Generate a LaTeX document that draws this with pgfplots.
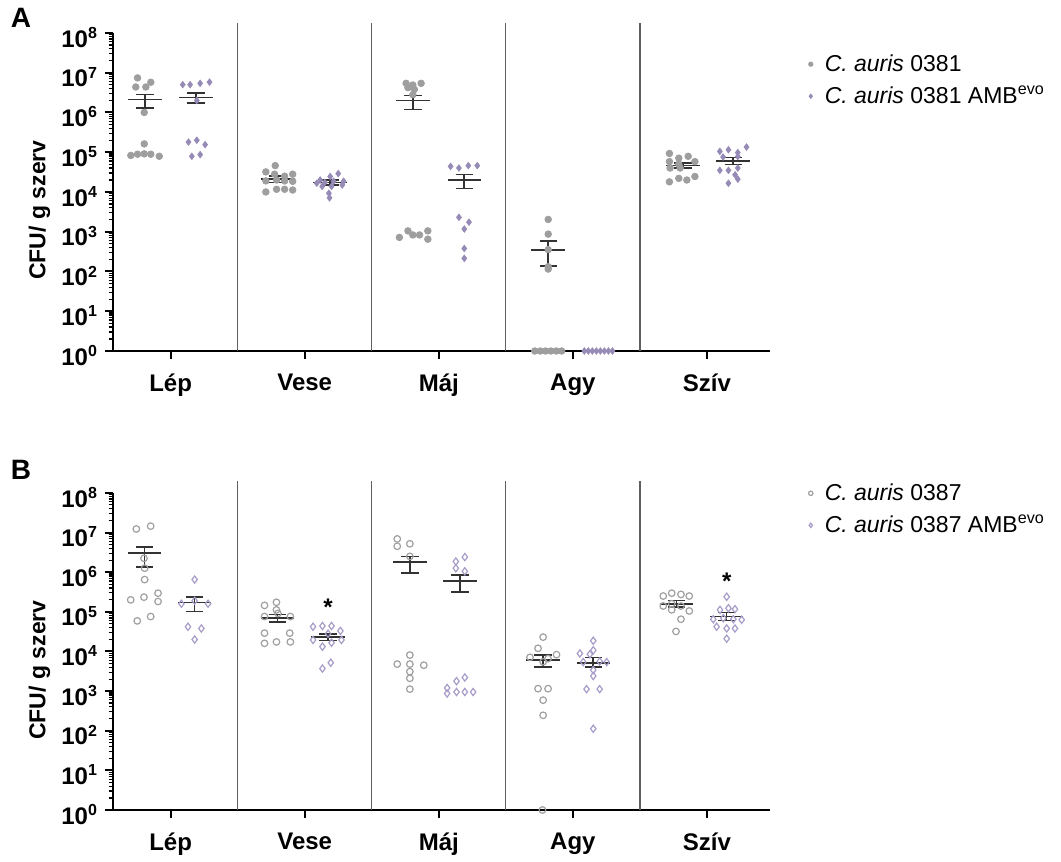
\documentclass[border=0pt]{standalone}
\usepackage{pgfplots}
\pgfplotsset{compat=1.18}
\usepackage{fontspec}
\setmainfont{Liberation Sans}
\definecolor{ptgray}{RGB}{158,158,158}
\definecolor{ptpurp}{RGB}{150,138,182}
\definecolor{opgray}{RGB}{160,160,160}
\definecolor{oppurp}{RGB}{168,156,200}
\definecolor{meanc}{RGB}{50,50,50}
\definecolor{sepc}{RGB}{95,95,95}
\tikzset{
 sepline/.style={sepc, line width=0.6pt},
 meanline/.style={meanc, line width=0.8pt},
}
\begin{document}
\begin{tikzpicture}
\useasboundingbox (0,0) rectangle (530.5pt,-431pt);
\node[font=\fontsize{14}{16}\selectfont\bfseries] at (10.5pt,-9pt) {A};
\node[font=\fontsize{14}{16}\selectfont\bfseries] at (10.5pt,-235pt) {B};
\node[rotate=90, font=\fontsize{11.5}{13}\selectfont\bfseries] at (19.75pt,-105pt) {CFU/ g szerv};
\node[rotate=90, font=\fontsize{11.5}{13}\selectfont\bfseries] at (19.75pt,-335pt) {CFU/ g szerv};
% ---------------- Panel A ----------------
\begin{axis}[
  scale only axis, width=328.5pt, height=164pt,
  at={(56.5pt,-175.5pt)}, anchor=south west,
  ymode=log, ymin=1, ymax=1.778e8,
  xmin=-0.43, xmax=4.47,
  axis x line*=bottom, axis y line*=left,
  y axis line style={line width=1pt, shorten >=4.97pt},
  x axis line style={line width=1pt},
  tick align=outside,
  major tick length=4pt, minor tick length=2.2pt,
  major tick style={line width=1pt,black},
  minor tick style={line width=0.6pt,black},
  xtick={0,1,2,3,4}, xticklabels={Lép,Vese,Máj,Agy,Szív},
  xticklabel style={font=\fontsize{12}{14}\selectfont\bfseries, yshift=-4pt},
  ytick={1,10,100,1000,10000,100000,1000000,10000000,100000000},
  minor ytick={2,3,4,5,6,7,8,9,20,30,40,50,60,70,80,90,200,300,400,500,600,700,800,900,2000,3000,4000,5000,6000,7000,8000,9000,2e4,3e4,4e4,5e4,6e4,7e4,8e4,9e4,2e5,3e5,4e5,5e5,6e5,7e5,8e5,9e5,2e6,3e6,4e6,5e6,6e6,7e6,8e6,9e6,2e7,3e7,4e7,5e7,6e7,7e7,8e7,9e7},
  yticklabels={\textbf{10\textsuperscript{0}},\textbf{10\textsuperscript{1}},\textbf{10\textsuperscript{2}},\textbf{10\textsuperscript{3}},\textbf{10\textsuperscript{4}},\textbf{10\textsuperscript{5}},\textbf{10\textsuperscript{6}},\textbf{10\textsuperscript{7}},\textbf{10\textsuperscript{8}}},
  yticklabel style={font=\fontsize{12}{14}\selectfont\bfseries, yshift=-2.2pt},
  clip=false,
  unbounded coords=jump,
  legend style={draw=none, fill=none, font=\fontsize{11.5}{13.5}\selectfont, at={(1.049,0.93)}, anchor=north west, row sep=2pt},
  legend cell align=left,
  legend image code/.code={\draw[#1, mark size=1.1pt] plot coordinates {(0pt,0pt)}; \path[draw=none, fill=none] (-1pt,0pt) -- (5pt,0pt);},
]
\draw[sepline] (axis cs:0.5,1) -- (axis cs:0.5,1.778e8);
\draw[sepline] (axis cs:1.5,1) -- (axis cs:1.5,1.778e8);
\draw[sepline] (axis cs:2.5,1) -- (axis cs:2.5,1.778e8);
\draw[sepline] (axis cs:3.5,1) -- (axis cs:3.5,1.778e8);
\addplot[only marks, mark=*, mark size=1.65pt, color=ptgray, mark options={draw=ptgray, fill=ptgray}] coordinates {
(-0.247,7.4e6)(-0.148,5.75e6)(-0.26,4.37e6)(-0.185,4.37e6)(-0.197,1.0e6)(-0.197,1.62e5)(-0.297,8.3e4)(-0.247,8.9e4)(-0.197,9.1e4)(-0.148,8.9e4)(-0.085,7.9e4)
(0.78,4.6e4)(0.71,3.2e4)(0.775,2.8e4)(0.85,2.5e4)(0.91,2.8e4)(0.71,1.9e4)(0.79,2.0e4)(0.85,1.9e4)(0.91,1.85e4)(0.71,1.0e4)(0.79,1.17e4)(0.85,1.17e4)(0.91,1.12e4)
(1.756,5.4e6)(1.806,4.9e6)(1.868,5.4e6)(1.818,3.8e6)(1.77,4.2e6)(1.806,2.8e6)(1.706,720)(1.77,1050)(1.806,830)(1.856,830)(1.918,1050)(1.918,650)
(2.816,2040)(2.816,870)(2.816,355)(2.816,132)(2.816,115)(2.716,1)(2.756,1)(2.796,1)(2.836,1)(2.876,1)(2.916,1)
(3.72,9.3e4)(3.79,7.1e4)(3.86,7.9e4)(3.72,5.8e4)(3.91,5.8e4)(3.79,5.0e4)(3.725,4.0e4)(3.8,4.0e4)(3.72,1.8e4)(3.79,2.2e4)(3.85,2.0e4)(3.91,2.45e4)
};
\addlegendentry{\textit{C. auris} 0381}
\addplot[only marks, mark=diamond*, mark size=1.6pt, color=ptpurp, mark options={draw=ptpurp, fill=ptpurp}] coordinates {
(0.09,5.0e6)(0.145,5.0e6)(0.22,5.4e6)(0.29,5.8e6)(0.195,2.0e6)(0.133,1.8e5)(0.195,2.0e5)(0.257,1.55e5)(0.158,7.9e4)(0.22,8.7e4)
(1.25,2.9e4)(1.19,2.45e4)(1.115,2.0e4)(1.09,1.66e4)(1.15,1.74e4)(1.215,1.86e4)(1.29,1.86e4)(1.13,1.38e4)(1.2,1.38e4)(1.28,1.5e4)(1.18,9.3e3)(1.185,7.1e3)
(2.088,4.4e4)(2.15,4.0e4)(2.22,4.6e4)(2.287,4.6e4)(2.15,2300)(2.225,1740)(2.19,1170)(2.19,380)(2.19,214)
(3.085,1)(3.115,1)(3.145,1)(3.175,1)(3.205,1)(3.235,1)(3.265,1)(3.295,1)
(4.096,1.05e5)(4.16,1.15e5)(4.23,9.8e4)(4.295,1.35e5)(4.12,7.6e4)(4.23,7.8e4)(4.096,3.5e4)(4.16,3.5e4)(4.23,4.0e4)(4.21,2.7e4)(4.16,1.66e4)(4.23,2.1e4)
};
\addlegendentry{\textit{C. auris} 0381 AMB\textsuperscript{evo}}
\addplot[meanline, no markers, forget plot] coordinates {
(-0.315,2.1e6)(-0.065,2.1e6)(0,nan)(-0.19,1.3e6)(-0.19,2.8e6)(0,nan)(-0.255,1.3e6)(-0.125,1.3e6)(0,nan)(-0.255,2.8e6)(-0.125,2.8e6)(0,nan)
(0.065,2.4e6)(0.315,2.4e6)(0,nan)(0.19,1.75e6)(0.19,3.1e6)(0,nan)(0.125,1.75e6)(0.255,1.75e6)(0,nan)(0.125,3.1e6)(0.255,3.1e6)(0,nan)
(0.675,2.1e4)(0.925,2.1e4)(0,nan)(0.8,1.75e4)(0.8,2.5e4)(0,nan)(0.735,1.75e4)(0.865,1.75e4)(0,nan)(0.735,2.5e4)(0.865,2.5e4)(0,nan)
(1.065,1.74e4)(1.315,1.74e4)(0,nan)(1.19,1.5e4)(1.19,2.0e4)(0,nan)(1.125,1.5e4)(1.255,1.5e4)(0,nan)(1.125,2.0e4)(1.255,2.0e4)(0,nan)
(1.681,2.0e6)(1.931,2.0e6)(0,nan)(1.806,1.2e6)(1.806,2.65e6)(0,nan)(1.741,1.2e6)(1.871,1.2e6)(0,nan)(1.741,2.65e6)(1.871,2.65e6)(0,nan)
(2.065,2.0e4)(2.315,2.0e4)(0,nan)(2.19,1.23e4)(2.19,2.75e4)(0,nan)(2.125,1.23e4)(2.255,1.23e4)(0,nan)(2.125,2.75e4)(2.255,2.75e4)(0,nan)
(2.691,350)(2.941,350)(0,nan)(2.816,138)(2.816,575)(0,nan)(2.751,138)(2.881,138)(0,nan)(2.751,575)(2.881,575)(0,nan)
(3.695,4.6e4)(3.945,4.6e4)(0,nan)(3.82,4.0e4)(3.82,5.3e4)(0,nan)(3.755,4.0e4)(3.885,4.0e4)(0,nan)(3.755,5.3e4)(3.885,5.3e4)(0,nan)
(4.071,6.0e4)(4.321,6.0e4)(0,nan)(4.196,4.9e4)(4.196,7.3e4)(0,nan)(4.131,4.9e4)(4.261,4.9e4)(0,nan)(4.131,7.3e4)(4.261,7.3e4)(0,nan)
};
\end{axis}
% ---------------- Panel B ----------------
\begin{axis}[
  scale only axis, width=328.5pt, height=164.5pt,
  at={(56.5pt,-405pt)}, anchor=south west,
  ymode=log, ymin=1, ymax=1.995e8,
  xmin=-0.43, xmax=4.47,
  axis x line*=bottom, axis y line*=left,
  y axis line style={line width=1pt, shorten >=5.95pt},
  x axis line style={line width=1pt},
  tick align=outside,
  major tick length=4pt, minor tick length=2.2pt,
  major tick style={line width=1pt,black},
  minor tick style={line width=0.6pt,black},
  xtick={0,1,2,3,4}, xticklabels={Lép,Vese,Máj,Agy,Szív},
  xticklabel style={font=\fontsize{12}{14}\selectfont\bfseries, yshift=-4pt},
  ytick={1,10,100,1000,10000,100000,1000000,10000000,100000000},
  minor ytick={2,3,4,5,6,7,8,9,20,30,40,50,60,70,80,90,200,300,400,500,600,700,800,900,2000,3000,4000,5000,6000,7000,8000,9000,2e4,3e4,4e4,5e4,6e4,7e4,8e4,9e4,2e5,3e5,4e5,5e5,6e5,7e5,8e5,9e5,2e6,3e6,4e6,5e6,6e6,7e6,8e6,9e6,2e7,3e7,4e7,5e7,6e7,7e7,8e7,9e7},
  yticklabels={\textbf{10\textsuperscript{0}},\textbf{10\textsuperscript{1}},\textbf{10\textsuperscript{2}},\textbf{10\textsuperscript{3}},\textbf{10\textsuperscript{4}},\textbf{10\textsuperscript{5}},\textbf{10\textsuperscript{6}},\textbf{10\textsuperscript{7}},\textbf{10\textsuperscript{8}}},
  yticklabel style={font=\fontsize{12}{14}\selectfont\bfseries, yshift=-2.2pt},
  clip=false,
  unbounded coords=jump,
  legend style={draw=none, fill=none, font=\fontsize{11.5}{13.5}\selectfont, at={(1.049,1.018)}, anchor=north west, row sep=2pt},
  legend cell align=left,
  legend image code/.code={\draw[#1, mark size=1.1pt] plot coordinates {(0pt,0pt)}; \path[draw=none, fill=none] (-1pt,0pt) -- (5pt,0pt);},
]
\draw[sepline] (axis cs:0.5,1) -- (axis cs:0.5,1.995e8);
\draw[sepline] (axis cs:1.5,1) -- (axis cs:1.5,1.995e8);
\draw[sepline] (axis cs:2.5,1) -- (axis cs:2.5,1.995e8);
\draw[sepline] (axis cs:3.5,1) -- (axis cs:3.5,1.995e8);
\addplot[only marks, mark=o, mark size=1.65pt, color=opgray, mark options={draw=opgray, fill=white, line width=0.6pt}] coordinates {
(-0.256,1.23e7)(-0.149,1.45e7)(-0.199,2.24e6)(-0.194,1.26e6)(-0.194,6.5e5)(-0.298,2.0e5)(-0.199,2.34e5)(-0.094,2.95e5)(-0.094,1.82e5)(-0.149,7.6e4)(-0.249,5.9e4)
(0.7,1.45e5)(0.789,1.74e5)(0.789,1.12e5)(0.8,9.1e4)(0.7,7.6e4)(0.893,7.6e4)(0.7,2.9e4)(0.888,2.9e4)(0.7,1.6e4)(0.789,1.74e4)(0.893,1.74e4)
(1.69,6.9e6)(1.69,4.5e6)(1.784,5.2e6)(1.784,2.5e6)(1.69,4800)(1.784,8100)(1.784,4800)(1.784,3100)(1.784,2100)(1.784,1120)(1.888,4500)
(2.778,2.3e4)(2.74,1.2e4)(2.68,7100)(2.878,8300)(2.815,6600)(2.778,5500)(2.74,1150)(2.815,1150)(2.778,590)(2.778,245)(2.773,1)
(3.674,2.5e5)(3.737,2.95e5)(3.806,2.75e5)(3.868,2.5e5)(3.674,1.4e5)(3.737,1.6e5)(3.806,1.4e5)(3.868,1.05e5)(3.806,6.5e4)(3.769,3.2e4)(3.737,1.12e5)
};
\addlegendentry{\textit{C. auris} 0387}
\addplot[only marks, mark=diamond, mark size=1.8pt, color=oppurp, mark options={draw=oppurp, fill=white, line width=0.6pt}] coordinates {
(0.179,6.5e5)(0.08,1.6e5)(0.179,1.9e5)(0.279,1.6e5)(0.129,4.2e4)(0.229,3.8e4)(0.179,2.0e4)
(1.062,4.2e4)(1.132,4.4e4)(1.2,4.4e4)(1.266,3.3e4)(1.062,1.95e4)(1.132,1.32e4)(1.2,1.66e4)(1.274,1.95e4)(1.132,3700)(1.194,5200)(1.174,2.8e4)
(2.194,2.4e6)(2.127,1.86e6)(2.127,1.26e6)(2.194,1.05e6)(2.132,1780)(2.194,2200)(2.062,1200)(2.062,870)(2.132,950)(2.194,950)(2.256,950)
(3.152,1.86e4)(3.152,1.07e4)(3.052,8900)(3.127,8500)(3.2,5600)(3.252,5400)(3.077,5400)(3.152,3400)(3.152,2400)(3.102,1120)(3.2,1120)(3.152,112)
(4.147,2.4e5)(4.097,1.12e5)(4.16,1.23e5)(4.209,1.17e5)(4.047,6.5e4)(4.122,6.9e4)(4.197,6.5e4)(4.259,6.3e4)(4.072,4.2e4)(4.147,3.8e4)(4.209,3.8e4)(4.147,2.1e4)
};
\addlegendentry{\textit{C. auris} 0387 AMB\textsuperscript{evo}}
\addplot[meanline, no markers, forget plot] coordinates {
(-0.319,3.0e6)(-0.069,3.0e6)(0,nan)(-0.194,1.37e6)(-0.194,4.3e6)(0,nan)(-0.259,1.37e6)(-0.129,1.37e6)(0,nan)(-0.259,4.3e6)(-0.129,4.3e6)(0,nan)
(0.054,1.7e5)(0.304,1.7e5)(0,nan)(0.179,1.02e5)(0.179,2.4e5)(0,nan)(0.114,1.02e5)(0.244,1.02e5)(0,nan)(0.114,2.4e5)(0.244,2.4e5)(0,nan)
(0.671,7.0e4)(0.921,7.0e4)(0,nan)(0.796,5.5e4)(0.796,8.5e4)(0,nan)(0.731,5.5e4)(0.861,5.5e4)(0,nan)(0.731,8.5e4)(0.861,8.5e4)(0,nan)
(1.049,2.35e4)(1.299,2.35e4)(0,nan)(1.174,1.9e4)(1.174,2.8e4)(0,nan)(1.109,1.9e4)(1.239,1.9e4)(0,nan)(1.109,2.8e4)(1.239,2.8e4)(0,nan)
(1.659,1.8e6)(1.909,1.8e6)(0,nan)(1.784,9.4e5)(1.784,2.5e6)(0,nan)(1.719,9.4e5)(1.849,9.4e5)(0,nan)(1.719,2.5e6)(1.849,2.5e6)(0,nan)
(2.032,6.0e5)(2.282,6.0e5)(0,nan)(2.157,3.2e5)(2.157,8.5e5)(0,nan)(2.092,3.2e5)(2.222,3.2e5)(0,nan)(2.092,8.5e5)(2.222,8.5e5)(0,nan)
(2.653,6.0e3)(2.903,6.0e3)(0,nan)(2.778,4.0e3)(2.778,8.0e3)(0,nan)(2.713,4.0e3)(2.843,4.0e3)(0,nan)(2.713,8.0e3)(2.843,8.0e3)(0,nan)
(3.027,5.2e3)(3.277,5.2e3)(0,nan)(3.152,4.0e3)(3.152,7.0e3)(0,nan)(3.087,4.0e3)(3.217,4.0e3)(0,nan)(3.087,7.0e3)(3.217,7.0e3)(0,nan)
(3.649,1.6e5)(3.899,1.6e5)(0,nan)(3.774,1.3e5)(3.774,1.95e5)(0,nan)(3.709,1.3e5)(3.839,1.3e5)(0,nan)(3.709,1.95e5)(3.839,1.95e5)(0,nan)
(4.022,7.6e4)(4.272,7.6e4)(0,nan)(4.147,6.0e4)(4.147,9.5e4)(0,nan)(4.082,6.0e4)(4.212,6.0e4)(0,nan)(4.082,9.5e4)(4.212,9.5e4)(0,nan)
};
\node[font=\fontsize{12}{14}\selectfont\bfseries, yshift=-2.5pt] at (axis cs:1.174,1.7e5) {*};
\node[font=\fontsize{12}{14}\selectfont\bfseries, yshift=-2.5pt] at (axis cs:4.147,8e5) {*};
\end{axis}
\end{tikzpicture}
\end{document}
